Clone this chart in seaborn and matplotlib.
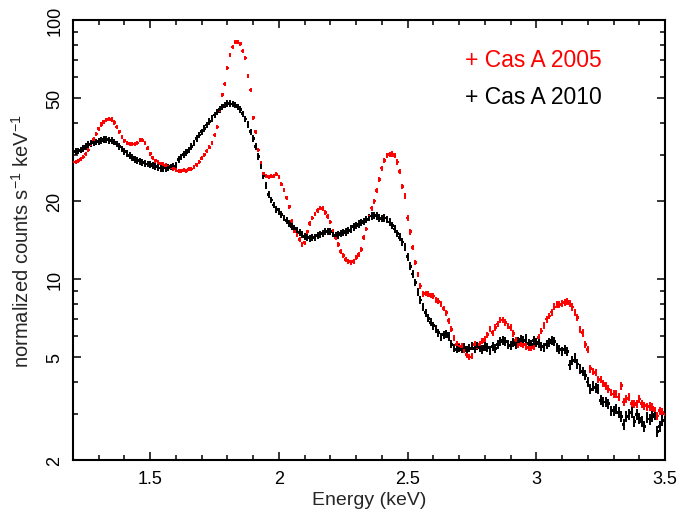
import numpy as np
import matplotlib
matplotlib.use("Agg")
import matplotlib.pyplot as plt
import seaborn as sns
import pandas as pd
from matplotlib.ticker import FixedLocator, NullFormatter, FixedFormatter

# ---------------- data ----------------
energy = np.round(np.arange(120, 351) / 100, 2)   # keV channel grid, 0.01 keV bins

counts_2005 = [
    28.3, 28.3, 28.6, 29.0, 29.6, 30.4, 31.5, 33.0, 34.6, 36.3,
    38.0, 39.5, 40.5, 41.2, 41.5, 41.3, 40.2, 38.6, 37.0, 35.3,
    34.2, 33.6, 33.3, 33.2, 33.2, 33.5, 34.5, 34.3, 33.5, 32.0,
    30.5, 29.4, 28.6, 28.2, 27.9, 27.7, 27.5, 27.3, 27.0, 26.7,
    26.4, 26.1, 26.2, 26.3, 26.2, 26.5, 26.6, 27.0, 27.6, 28.3,
    29.2, 30.2, 31.2, 32.2, 33.5, 36.0, 38.6, 44.6, 51.5, 56.6,
    65.3, 73.5, 78.7, 82.0, 82.4, 81.0, 75.9, 71.3, 61.0, 53.7,
    42.0, 37.0, 31.5, 28.1, 25.5, 24.9, 24.8, 24.9, 25.0, 25.4,
    24.8, 23.2, 22.0, 20.6, 19.0, 16.7, 15.3, 14.8, 14.2, 13.6,
    13.8, 15.2, 16.4, 17.2, 17.8, 18.4, 18.8, 18.7, 18.1, 17.4,
    16.6, 15.3, 14.4, 13.6, 12.8, 12.3, 11.9, 11.7, 11.6, 11.7,
    12.1, 12.4, 13.0, 14.5, 15.6, 17.4, 18.8, 20.0, 22.0, 24.3,
    26.8, 28.6, 29.9, 30.3, 30.4, 30.0, 28.3, 26.0, 22.8, 20.9,
    17.2, 15.2, 13.2, 11.6, 10.4, 9.4, 8.75, 8.8, 8.75, 8.65,
    8.6, 8.3, 8.2, 8.0, 7.7, 7.4, 6.9, 6.4, 5.9, 5.6,
    5.5, 5.5, 5.3, 5.1, 5.0, 5.05, 5.6, 5.45, 5.6, 5.75,
    5.85, 6.1, 6.4, 6.2, 6.5, 6.7, 6.95, 6.95, 6.8, 6.6,
    6.5, 6.15, 5.8, 5.6, 5.65, 5.6, 5.5, 5.45, 5.45, 5.5,
    5.7, 5.95, 6.3, 6.6, 7.0, 7.2, 7.45, 7.8, 8.0, 7.95,
    8.05, 8.1, 8.2, 8.05, 7.8, 7.45, 7.1, 6.4, 6.2, 5.6,
    5.35, 4.5, 4.4, 4.35, 4.1, 4.1, 3.95, 3.87, 3.75, 3.65,
    3.6, 3.6, 3.5, 3.87, 3.35, 3.45, 3.5, 3.3, 3.28, 3.3,
    3.44, 3.3, 3.24, 3.2, 3.22, 3.2, 3.1, 2.96, 3.1, 3.05,
    3.0,
]

counts_2010 = [
    31.0, 31.0, 31.2, 31.5, 32.0, 32.5, 33.0, 33.3, 33.6, 33.8,
    34.0, 34.3, 34.5, 34.6, 34.3, 34.2, 33.8, 33.2, 32.4, 31.8,
    31.0, 30.5, 30.0, 29.4, 29.0, 28.6, 28.5, 28.2, 27.9, 27.8,
    27.6, 27.4, 27.2, 27.0, 26.8, 26.6, 26.8, 26.9, 27.1, 27.3,
    27.4, 29.0, 29.6, 30.2, 30.8, 31.5, 32.5, 33.5, 34.8, 36.0,
    37.0, 38.2, 39.3, 40.5, 41.8, 43.0, 44.2, 45.2, 46.2, 47.0,
    47.5, 47.6, 47.4, 47.0, 46.2, 45.0, 43.4, 41.5, 39.4, 37.0,
    34.8, 32.4, 29.8, 27.3, 25.0, 23.0, 21.2, 20.2, 19.3, 18.6,
    18.2, 17.7, 17.2, 16.8, 16.4, 16.0, 15.7, 15.4, 15.1, 14.8,
    14.6, 14.5, 14.4, 14.5, 14.5, 14.7, 14.8, 15.0, 15.2, 15.3,
    15.3, 15.0, 14.7, 14.8, 15.0, 15.1, 15.2, 15.4, 15.6, 15.9,
    16.1, 16.3, 16.5, 16.7, 17.0, 17.3, 17.5, 17.6, 17.5, 17.2,
    17.1, 17.2, 17.0, 16.6, 16.1, 15.6, 15.0, 14.5, 13.9, 13.3,
    12.2, 11.2, 10.45, 9.7, 8.9, 8.3, 7.8, 7.4, 7.05, 6.8,
    6.6, 6.4, 6.2, 5.95, 6.1, 6.15, 6.0, 5.6, 5.4, 5.35,
    5.4, 5.35, 5.45, 5.3, 5.4, 5.5, 5.4, 5.5, 5.45, 5.35,
    5.5, 5.45, 5.3, 5.5, 5.4, 5.6, 5.75, 5.8, 5.75, 5.6,
    5.55, 5.7, 5.6, 5.75, 5.85, 5.8, 5.9, 5.65, 5.6, 5.8,
    5.7, 5.65, 5.5, 5.45, 5.6, 5.7, 5.8, 5.75, 5.45, 5.35,
    5.25, 5.35, 5.25, 4.65, 4.85, 4.95, 4.7, 4.5, 4.4, 4.25,
    4.0, 3.75, 3.85, 3.8, 3.75, 3.4, 3.35, 3.35, 3.3, 3.1,
    3.1, 3.15, 3.05, 2.95, 2.75, 2.95, 3.0, 3.05, 2.82, 3.0,
    2.9, 2.82, 2.70, 2.92, 2.88, 2.95, 3.0, 2.57, 2.7, 2.85,
    2.88,
]

# relative 1-sigma errors at a few energies
err_energy = [1.2, 2.0, 2.6, 3.0, 3.5]
relerr_2005 = [0.018, 0.018, 0.025, 0.030, 0.038]
relerr_2010 = [0.030, 0.030, 0.035, 0.040, 0.050]

series_labels = ["Cas A 2005", "Cas A 2010"]
series_colors = ["#ff0000", "#000000"]

xtick_major = [1.5, 2.0, 2.5, 3.0, 3.5]
xtick_labels = ["1.5", "2", "2.5", "3", "3.5"]
xtick_minor = [1.2, 1.3, 1.4, 1.6, 1.7, 1.8, 1.9, 2.1, 2.2, 2.3, 2.4,
               2.6, 2.7, 2.8, 2.9, 3.1, 3.2, 3.3, 3.4]
ytick_major = [2, 5, 10, 20, 50, 100]
ytick_labels = ["2", "5", "10", "20", "50", "100"]
ytick_minor = [3, 4, 6, 7, 8, 9, 30, 40, 60, 70, 80, 90]

# ---------------- plot ----------------
sns.set_theme(style="ticks")
plt.rcParams['font.family'] = ['Liberation Sans', 'DejaVu Sans']
plt.rcParams['mathtext.fontset'] = 'custom'
plt.rcParams['mathtext.rm'] = 'Liberation Sans'
plt.rcParams['mathtext.it'] = 'Liberation Sans:italic'

df = pd.concat([
    pd.DataFrame({"energy": energy, "counts": counts_2005, "series": series_labels[0]}),
    pd.DataFrame({"energy": energy, "counts": counts_2010, "series": series_labels[1]}),
], ignore_index=True)

fig = plt.figure(figsize=(6.8, 5.1), dpi=100)
ax = fig.add_axes([73 / 680, 49 / 510, 592 / 680, 440 / 510])
ax.set_yscale("log")

for lab, col, rel, hw, z in [(series_labels[0], series_colors[0], relerr_2005, 0.0045, 1),
                             (series_labels[1], series_colors[1], relerr_2010, 0.005, 2)]:
    sub = df[df.series == lab]
    e = sub.energy.to_numpy()
    c = sub.counts.to_numpy()
    yerr = c * np.interp(e, err_energy, rel)
    ax.errorbar(e, c, yerr=yerr, xerr=hw, fmt="none", ecolor=col,
                elinewidth=1.4, capsize=0, zorder=z)

sns.scatterplot(data=df, x="energy", y="counts", hue="series",
                palette=dict(zip(series_labels, series_colors)),
                marker="s", s=4, linewidth=0, legend=False, ax=ax, zorder=3)

ax.set_xlim(1.2, 3.5)
ax.set_ylim(2, 100)

ax.xaxis.set_major_locator(FixedLocator(xtick_major))
ax.xaxis.set_major_formatter(FixedFormatter(xtick_labels))
ax.xaxis.set_minor_locator(FixedLocator(xtick_minor))
ax.yaxis.set_major_locator(FixedLocator(ytick_major))
ax.yaxis.set_major_formatter(FixedFormatter(ytick_labels))
ax.yaxis.set_minor_locator(FixedLocator(ytick_minor))
ax.yaxis.set_minor_formatter(NullFormatter())

ax.tick_params(which="both", direction="in", top=True, right=True,
               width=1.1, colors="black", labelsize=13)
ax.tick_params(which="major", length=6)
ax.tick_params(which="minor", length=3.5)
ax.tick_params(axis="x", which="major", pad=7)
ax.tick_params(axis="y", which="major", pad=7, labelrotation=90)
for lab in ax.get_yticklabels():
    lab.set_verticalalignment("center")

for sp in ax.spines.values():
    sp.set_linewidth(1.5)
    sp.set_color("black")

ax.set_xlabel("Energy (keV)", fontsize=14, labelpad=3)
ax.set_ylabel(r"normalized counts s$^{-1}$ keV$^{-1}$", fontsize=14.5, labelpad=10)

ax.text(0.662, 0.911, "+ " + series_labels[0], color=series_colors[0],
        fontsize=16.5, transform=ax.transAxes, va="center", ha="left")
ax.text(0.662, 0.825, "+ " + series_labels[1], color=series_colors[1],
        fontsize=16.5, transform=ax.transAxes, va="center", ha="left")

fig.savefig("out.png", dpi=100)
